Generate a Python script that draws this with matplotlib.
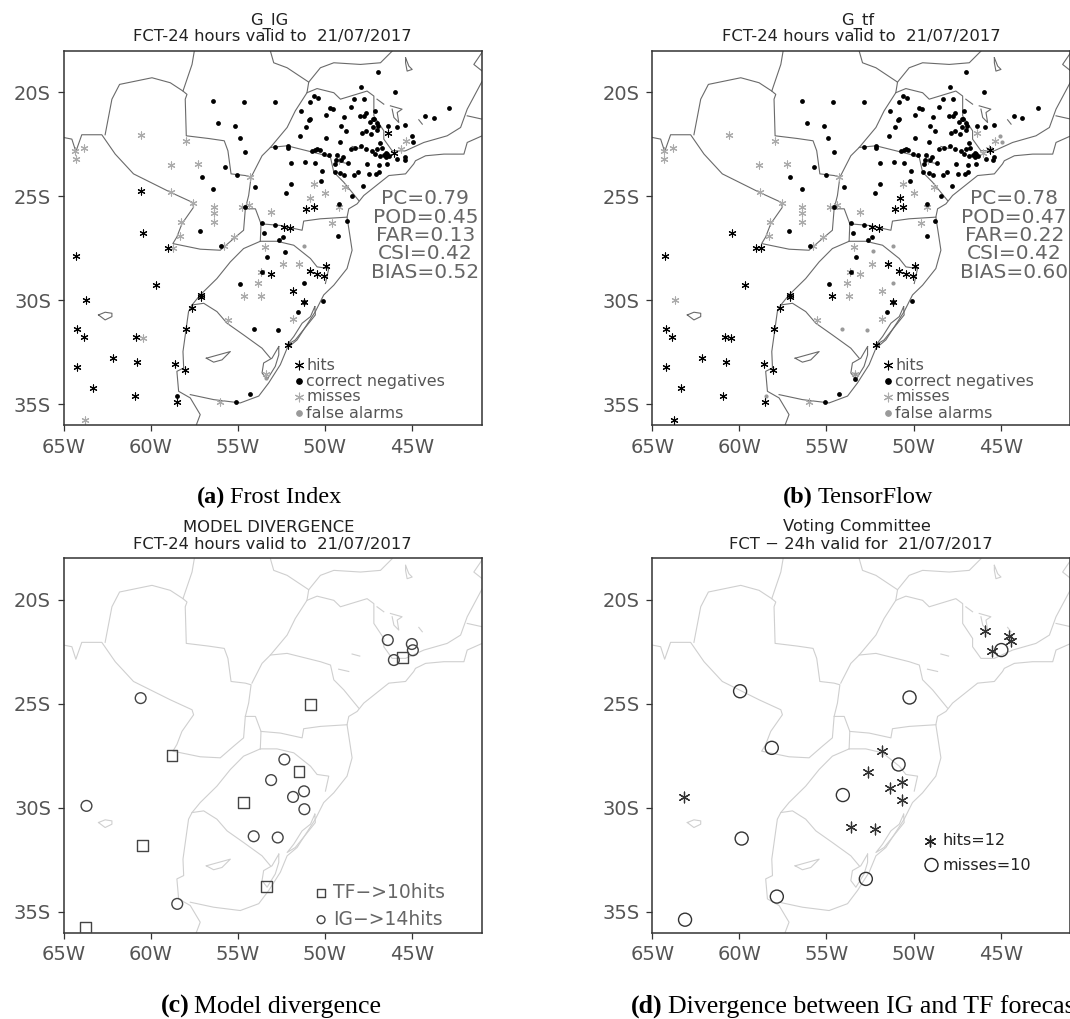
import matplotlib
matplotlib.use("Agg")
import matplotlib.pyplot as plt

W, H = 1070, 1019

# ---- map outlines (lon, lat) ----
BORDERS = [
    [(-57.49, -18.02), (-57.62, -18.66), (-58.14, -19.94), (-57.91, -20.1), (-58.01, -20.33), (-57.95, -22.09),
     (-56.67, -22.22), (-55.77, -22.33), (-55.56, -22.81), (-55.38, -23.92), (-54.56, -24.0), (-54.23, -24.08),
     (-54.37, -24.96), (-54.56, -25.6)],
    [(-65, -22.17), (-64.52, -22.25), (-64.29, -22.85), (-63.95, -22.04), (-62.8, -22.04), (-62.03, -22.97),
     (-60.98, -23.92), (-58.87, -24.8), (-57.62, -25.28), (-57.53, -25.52), (-58.2, -26.32), (-58.49, -26.95),
     (-58.72, -27.27), (-57.15, -27.54), (-56.0, -27.59), (-55.23, -27.03), (-54.66, -26.63), (-54.56, -25.6),
     (-53.98, -25.6), (-53.66, -26.32), (-53.7, -27.16)],
    [(-62.61, -22.04), (-62.22, -20.33), (-61.78, -19.62), (-59.92, -19.3), (-58.87, -19.54), (-58.14, -19.94)],
    [(-53.66, -26.32), (-52.55, -26.4), (-51.3, -26.63), (-51.21, -26.19), (-50.25, -26.08), (-48.72, -26.0)],
    [(-40.96, -22.09), (-41.82, -22.41), (-42.01, -22.97), (-43.16, -22.97), (-44.21, -23.05), (-44.79, -23.29),
     (-44.89, -23.44), (-45.36, -23.92), (-46.32, -24.0), (-47.76, -24.96), (-48.14, -25.36), (-48.62, -25.6),
     (-48.72, -26.0), (-48.56, -26.87), (-48.43, -27.59), (-48.72, -28.47), (-49.48, -29.27), (-50.06, -29.74),
     (-50.54, -30.54), (-51.59, -31.9), (-52.16, -32.3), (-52.55, -33.09), (-53.22, -33.97), (-53.79, -34.6),
     (-54.85, -34.93), (-56.38, -34.77), (-57.72, -34.53)],
    [(-53.7, -27.16), (-54.66, -27.51), (-55.42, -28.15), (-56.19, -28.95), (-57.15, -29.74), (-57.62, -30.22),
     (-57.82, -30.54), (-58.14, -32.46), (-58.1, -33.25), (-58.49, -33.41), (-58.39, -34.37), (-57.72, -34.69),
     (-57.15, -35.49), (-57.38, -36.0)],
    [(-57.62, -30.22), (-56.95, -30.14), (-56.19, -30.54), (-55.61, -31.1), (-54.66, -31.66), (-53.6, -32.3),
     (-53.12, -32.78)],
    [(-53.7, -27.16), (-52.74, -27.16), (-51.78, -27.35), (-50.82, -27.99), (-50.44, -28.39), (-49.77, -28.47),
     (-49.96, -29.19)],
    [(-53.12, -18.02), (-52.93, -18.58), (-52.16, -18.82), (-50.92, -19.51), (-51.02, -20.02), (-51.69, -20.89),
     (-52.16, -21.69), (-53.12, -22.65), (-53.6, -23.05), (-54.18, -24.0)],
    [(-50.92, -19.51), (-50.25, -18.82), (-49.48, -18.58), (-47.95, -18.66), (-46.8, -18.58), (-46.13, -18.02)],
    [(-51.02, -20.02), (-50.44, -19.82), (-49.48, -20.02), (-49.1, -20.33), (-47.57, -19.94), (-47.18, -20.18),
     (-47.18, -21.13), (-46.61, -21.85), (-46.61, -22.25), (-46.13, -22.81), (-45.36, -22.81), (-44.31, -22.41),
     (-42.97, -22.09), (-42.2, -21.69), (-41.82, -20.81), (-40.96, -19.46)],
    [(-41.82, -21.13), (-40.96, -21.29)],
    [(-40.96, -18.07), (-41.44, -18.66), (-40.96, -18.98)],
    [(-53.12, -22.65), (-52.16, -22.57), (-50.25, -22.97), (-49.67, -23.13), (-49.48, -23.84), (-48.91, -24.32),
     (-48.05, -25.2)],
    # lakes and lagoons
    [(-50.57, -30.3), (-50.82, -30.78), (-51.3, -31.1), (-51.78, -31.74), (-52.16, -32.14), (-51.69, -31.9),
     (-50.92, -31.1), (-50.54, -30.7), (-50.57, -30.3)],
    [(-52.64, -32.22), (-53.03, -32.78), (-53.51, -33.01), (-53.6, -33.49), (-53.31, -33.81), (-52.84, -33.17),
     (-52.64, -32.62), (-52.64, -32.22)],
    [(-56.8, -32.78), (-55.42, -32.46), (-55.9, -32.86), (-56.38, -32.97), (-56.8, -32.78)],
    [(-62.99, -30.7), (-62.61, -30.57), (-62.22, -30.62), (-62.22, -30.78), (-62.61, -30.94), (-62.99, -30.7)],
    [(-46.23, -20.65), (-45.56, -20.81), (-45.84, -20.97), (-45.75, -21.45), (-46.03, -21.21), (-46.13, -20.81)],
    [(-45.36, -18.34), (-45.17, -18.74), (-44.98, -18.9), (-45.27, -18.98), (-45.36, -18.58), (-45.36, -18.34)],
    [(-47.0, -20.33), (-46.61, -20.57)],
    [(-44.6, -21.32), (-44.4, -21.53)],
    [(-48.43, -22.6), (-47.99, -22.7)],
    [(-49.2, -23.33), (-48.62, -23.44)],
]

# ---- panels (a) and (b) stations ----
CN_COMMON = [
    (-46.97, -19.0), (-47.91, -19.76), (-45.96, -20.0), (-56.42, -20.4), (-54.64, -20.48), (-52.87, -20.45),
    (-50.59, -20.16), (-50.38, -20.29), (-50.86, -20.46), (-51.36, -20.89), (-49.71, -20.77), (-49.52, -20.81),
    (-49.9, -21.1), (-48.52, -20.72), (-48.3, -20.32), (-47.76, -20.33), (-47.11, -20.89), (-42.84, -20.75),
    (-44.23, -21.12), (-43.75, -21.23), (-48.89, -21.2), (-50.86, -21.26), (-50.92, -21.32), (-47.95, -21.15),
    (-47.76, -21.13), (-47.62, -20.99), (-47.22, -21.26), (-47.15, -21.3), (-47.41, -21.44), (-47.0, -21.48),
    (-47.22, -21.67), (-46.93, -21.64), (-47.0, -21.79), (-46.36, -21.64), (-45.88, -21.69), (-45.4, -21.58),
    (-56.13, -21.48), (-55.17, -21.61), (-51.05, -21.67), (-49.04, -21.61), (-48.79, -21.85), (-47.85, -21.96),
    (-47.61, -21.88), (-47.34, -21.98), (-54.89, -22.19), (-51.4, -22.12), (-49.92, -22.2), (-49.14, -22.41),
    (-46.8, -22.42), (-52.87, -22.63), (-52.13, -22.58), (-52.13, -22.68), (-54.56, -22.85), (-50.73, -22.82),
    (-50.44, -22.71), (-50.57, -22.79), (-50.29, -22.79), (-50.02, -22.97), (-49.77, -23.0), (-49.31, -23.0),
    (-49.33, -23.24), (-48.95, -23.11), (-49.04, -23.27), (-49.39, -23.43), (-48.66, -23.38), (-48.52, -22.71),
    (-48.28, -22.66), (-47.91, -22.57), (-47.62, -22.74), (-47.26, -22.81), (-47.0, -22.71), (-46.74, -22.7),
    (-47.09, -22.95), (-46.84, -23.06), (-46.42, -22.98), (-46.46, -23.11), (-46.32, -23.08), (-46.61, -23.01),
    (-46.46, -22.92), (-46.86, -23.48), (-46.42, -23.43), (-45.84, -23.22), (-45.42, -23.24), (-45.4, -23.11),
    (-47.57, -23.43), (-55.71, -23.57), (-57.07, -24.07), (-55.02, -23.96), (-51.92, -23.41), (-51.15, -23.35),
    (-50.57, -23.41), (-50.15, -23.76), (-49.43, -23.83), (-49.14, -23.88), (-48.87, -23.97), (-48.33, -23.97),
    (-48.1, -23.83), (-47.47, -23.94), (-47.03, -23.91), (-46.9, -23.84), (-47.82, -24.48), (-50.19, -24.27),
    (-51.93, -24.43), (-54.0, -24.53), (-56.42, -24.67), (-52.2, -24.85), (-48.41, -24.96), (-54.56, -25.52),
    (-53.6, -26.28), (-52.84, -26.4), (-53.49, -26.78), (-57.15, -26.65), (-55.96, -27.37), (-52.64, -27.11),
    (-52.39, -26.95), (-53.31, -27.91), (-49.23, -26.91), (-48.75, -26.19), (-53.6, -28.64), (-54.87, -29.22),
    (-50.11, -30.03), (-51.51, -30.54), (-54.27, -34.5), (-55.08, -34.9), (-51.17, -30.08), (-49.2, -25.38),
]
CN_IG_ONLY = [(-52.3, -27.66), (-51.19, -29.17), (-54.08, -31.36), (-52.7, -31.42), (-58.47, -34.61),
              (-45.0, -22.11), (-44.94, -22.39)]
CN_TF_ONLY = [(-53.35, -33.78)]

HITS_COMMON = [
    (-50.59, -25.5), (-51.05, -25.61), (-52.36, -26.48), (-51.97, -26.51), (-60.44, -26.78), (-59.02, -27.5),
    (-64.29, -27.85), (-59.69, -29.25), (-57.11, -29.76), (-57.1, -29.85), (-57.64, -30.35), (-64.2, -31.39),
    (-63.85, -31.74), (-60.82, -31.77), (-57.99, -31.36), (-62.13, -32.76), (-60.77, -32.98), (-64.21, -33.19),
    (-63.33, -34.19), (-60.92, -34.61), (-58.6, -33.08), (-58.05, -33.33), (-58.51, -34.9), (-52.13, -32.14),
    (-51.17, -30.08), (-50.86, -28.58), (-50.42, -28.74), (-50.06, -28.82), (-49.9, -28.34),
]
HITS_IG_ONLY = [(-46.36, -21.96), (-46.03, -22.9), (-60.56, -24.75), (-51.8, -29.54), (-53.08, -28.72),
                (-63.68, -29.98)]
HITS_TF_ONLY = [(-50.8, -25.06), (-58.77, -27.5), (-45.59, -22.79), (-60.46, -31.83), (-63.74, -35.76),
                (-54.66, -29.78), (-51.48, -28.26)]

MISSES_COMMON = [
    (-57.95, -22.33), (-60.57, -22.06), (-64.33, -22.81), (-63.81, -22.7), (-64.31, -23.21), (-58.85, -23.51),
    (-57.28, -23.46), (-57.57, -25.3), (-56.38, -25.52), (-56.38, -25.82), (-56.38, -26.22), (-58.24, -26.24),
    (-58.31, -26.89), (-55.19, -26.95), (-55.77, -27.37), (-54.77, -25.5), (-54.37, -25.44), (-54.29, -24.07),
    (-53.08, -25.76), (-49.58, -26.3), (-49.2, -25.5), (-50.59, -24.39), (-49.98, -24.83), (-48.81, -24.55),
    (-45.33, -22.36), (-45.65, -22.71), (-49.16, -23.27), (-53.41, -27.43), (-52.39, -28.26), (-53.66, -28.64),
    (-53.83, -29.15), (-53.68, -29.78), (-51.82, -30.88), (-55.56, -30.93), (-56.03, -34.9), (-53.37, -33.56),
    (-58.81, -24.77),
]
MISSES_IG_ONLY = [(-50.82, -25.06), (-51.48, -28.26), (-54.66, -29.78), (-60.46, -31.83), (-63.74, -35.76),
                  (-58.72, -27.5)]
MISSES_TF_ONLY = [(-46.36, -21.96), (-46.03, -22.9), (-53.08, -28.72), (-51.8, -29.54), (-63.68, -29.98)]

FA_IG = [(-51.19, -27.4), (-53.37, -33.75)]
FA_TF = [(-51.19, -27.4), (-52.3, -27.65), (-51.19, -29.17), (-54.08, -31.36), (-52.7, -31.42), (-58.47, -34.61),
         (-53.37, -33.56), (-45.02, -22.11), (-44.94, -22.39)]

STAT_NAMES = ["PC", "POD", "FAR", "CSI", "BIAS"]
STATS_IG = [0.79, 0.45, 0.13, 0.42, 0.52]
STATS_TF = [0.78, 0.47, 0.22, 0.42, 0.60]

# ---- panels (c) and (d) ----
DIV_IG = [(-46.38, -21.93), (-45.0, -22.12), (-44.94, -22.42), (-46.03, -22.89), (-60.57, -24.72), (-52.32, -27.67),
          (-53.08, -28.66), (-51.19, -29.2), (-51.82, -29.47), (-51.17, -30.06), (-63.68, -29.9), (-54.08, -31.36),
          (-52.7, -31.42), (-58.47, -34.61)]
DIV_TF = [(-45.56, -22.76), (-50.82, -25.02), (-58.77, -27.46), (-51.48, -28.25), (-54.66, -29.73), (-60.48, -31.8),
          (-53.35, -33.76), (-63.75, -35.73)]
VOTE_HITS = [(-45.88, -21.48), (-44.5, -21.74), (-44.41, -21.96), (-45.52, -22.46), (-51.8, -27.24), (-52.59, -28.25),
             (-50.67, -28.76), (-51.34, -29.03), (-50.65, -29.63), (-63.16, -29.49), (-53.58, -30.91), (-52.2, -30.99)]
VOTE_MISSES = [(-59.96, -24.39), (-50.23, -24.69), (-58.14, -27.11), (-50.86, -27.91), (-54.06, -29.38),
               (-59.87, -31.47), (-52.74, -33.41), (-57.85, -34.26), (-63.12, -35.37), (-44.96, -22.41)]

XTICKS = [-65, -60, -55, -50, -45]
XLABELS = ["65W", "60W", "55W", "50W", "45W"]
YTICKS = [-20, -25, -30, -35]
YLABELS = ["20S", "25S", "30S", "35S"]

STAR = (6, 2, 0)
TXT = "#555555"


def make_axes(fig, left, top):
    ax = fig.add_axes([left / W, 1 - (top + 374.5) / H, 418 / W, 374.5 / H])
    ax.set_xlim(-65, -41)
    ax.set_ylim(-36, -18)
    ax.set_xticks(XTICKS)
    ax.set_xticklabels(XLABELS, fontsize=14, color=TXT)
    ax.set_yticks(YTICKS)
    ax.set_yticklabels(YLABELS, fontsize=14, color=TXT)
    ax.tick_params(length=4.5, width=0.9, color="#333333", pad=4.5)
    for sp in ax.spines.values():
        sp.set_linewidth(1.1)
        sp.set_color("#333333")
    return ax


def draw_map(ax, color, lw):
    for line in BORDERS:
        ax.plot([p[0] for p in line], [p[1] for p in line], color=color, lw=lw, zorder=1)


def pts(ax, data, **kw):
    ax.scatter([p[0] for p in data], [p[1] for p in data], **kw)


def titles(fig, cx1, cx2, y1, y2, line1, line2):
    fig.text(cx1 / W, 1 - y1 / H, line1, ha="center", va="center", fontsize=11.8, color="#222222")
    fig.text(cx2 / W, 1 - y2 / H, line2, ha="center", va="center", fontsize=11.8, color="#222222")


def caption(fig, x_tag, x_txt, y, tag, text, size):
    fig.text(x_tag / W, 1 - y / H, tag, ha="left", va="baseline", fontsize=size, fontweight="bold",
             family="Liberation Serif", color="black")
    fig.text(x_txt / W, 1 - y / H, text, ha="left", va="baseline", fontsize=size,
             family="Liberation Serif", color="black")


def score_panel(ax, cn, hits, misses, fa, stats):
    draw_map(ax, "#6a6a6a", 0.8)
    pts(ax, misses, marker=STAR, s=26, color="#ababab", linewidths=0.8, zorder=2)
    pts(ax, fa, marker="o", s=9, color="#9a9a9a", linewidths=0, zorder=2)
    pts(ax, cn, marker="o", s=12, color="black", linewidths=0, zorder=3)
    pts(ax, hits, marker=STAR, s=26, color="black", linewidths=0.8, zorder=3)
    for name, val, lat in zip(STAT_NAMES, stats, [-25.09, -26.0, -26.86, -27.77, -28.67]):
        ax.text(-44.22, lat, f"{name}={val:.2f}", ha="center", va="center", fontsize=14.5, color="#666666")
    # legend is hand placed like the original GrADS plot
    rows = [("hits", STAR, "black", -33.11, -33.35, 40), ("correct negatives", "o", "black", -33.86, -34.11, 16),
            ("misses", STAR, "#ababab", -34.63, -34.86, 40), ("false alarms", "o", "#9a9a9a", -35.39, -35.63, 16)]
    for label, mk, col, lat, base, size in rows:
        ax.scatter([-51.46], [lat], marker=mk, s=size, color=col, linewidths=0.8, zorder=3)
        ax.text(-51.05, base, label, ha="left", va="baseline", fontsize=11.4, color=TXT)


def main():
    fig = plt.figure(figsize=(W / 100, H / 100), dpi=100)

    ax = make_axes(fig, 63.5, 50.7)
    score_panel(ax, CN_COMMON + CN_IG_ONLY, HITS_COMMON + HITS_IG_ONLY, MISSES_COMMON + MISSES_IG_ONLY, FA_IG, STATS_IG)
    titles(fig, 269, 272, 21, 36, "G_IG", "FCT-24 hours valid to  21/07/2017")
    caption(fig, 197, 230, 503, "(a)", "Frost Index", 17.5)

    ax = make_axes(fig, 652.3, 50.7)
    score_panel(ax, CN_COMMON + CN_TF_ONLY, HITS_COMMON + HITS_TF_ONLY, MISSES_COMMON + MISSES_TF_ONLY, FA_TF, STATS_TF)
    titles(fig, 858, 861, 21, 36, "G_tf", "FCT-24 hours valid to  21/07/2017")
    caption(fig, 783, 818, 503, "(b)", "TensorFlow", 17.5)

    ax = make_axes(fig, 63.5, 558.3)
    draw_map(ax, "#cfcfcf", 0.8)
    pts(ax, DIV_IG, marker="o", s=60, facecolors="none", edgecolors="#444444", linewidths=1.0, zorder=3)
    pts(ax, DIV_TF, marker="s", s=62, facecolors="none", edgecolors="#444444", linewidths=1.0, zorder=3)
    ax.scatter([-50.21], [-34.08], marker="s", s=36, facecolors="none", edgecolors="#444444", linewidths=1.0)
    ax.scatter([-50.21], [-35.37], marker="o", s=32, facecolors="none", edgecolors="#444444", linewidths=1.0)
    ax.text(-49.54, -34.08, "TF\u2212>10hits", ha="left", va="center", fontsize=13.5, color="#666666")
    ax.text(-49.54, -35.37, "IG\u2212>14hits", ha="left", va="center", fontsize=13.5, color="#666666")
    titles(fig, 269, 272, 527, 544, "MODEL DIVERGENCE", "FCT-24 hours valid to  21/07/2017")
    caption(fig, 161, 194, 1013, "(c)", "Model divergence", 18.6)

    ax = make_axes(fig, 652.3, 558.3)
    draw_map(ax, "#cfcfcf", 0.8)
    pts(ax, VOTE_MISSES, marker="o", s=88, facecolors="none", edgecolors="#333333", linewidths=1.0, zorder=3)
    pts(ax, VOTE_HITS, marker=STAR, s=60, color="#333333", linewidths=0.9, zorder=3)
    ax.scatter([-49.08], [-31.61], marker=STAR, s=60, color="#222222", linewidths=1.0)
    ax.scatter([-48.97], [-32.74], marker="o", s=88, facecolors="none", edgecolors="#222222", linewidths=1.0)
    ax.text(-48.31, -31.55, "hits=12", ha="left", va="center", fontsize=11.5, color="#222222")
    ax.text(-48.31, -32.78, "misses=10", ha="left", va="center", fontsize=11.5, color="#222222")
    titles(fig, 857, 861, 527, 544, "Voting Committee", "FCT \u2212 24h valid for  21/07/2017")
    caption(fig, 631, 668, 1013, "(d)", "Divergence between IG and TF forecasts", 18.6)

    fig.savefig("out.png", dpi=100)


if __name__ == "__main__":
    main()
